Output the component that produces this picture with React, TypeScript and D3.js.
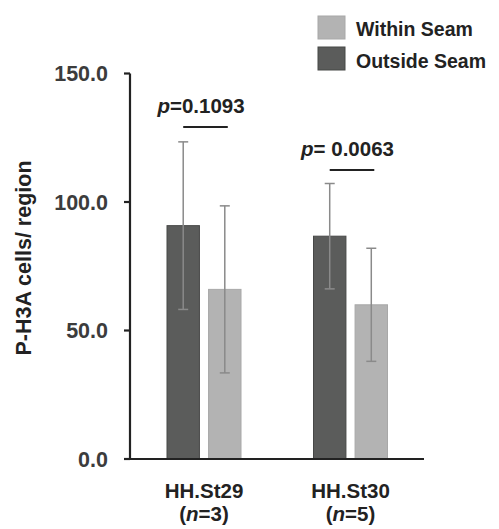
import React from 'react'
import { scaleBand, scaleLinear } from 'd3'

const categories = ['HH.St29', 'HH.St30']
const sampleSizes = ['3', '5']
const seriesNames = ['Outside Seam', 'Within Seam']
const outsideMeans = [90.8, 86.7]
const outsideErr = [32.6, 20.5]
const withinMeans = [66.0, 60.0]
const withinErr = [32.5, 22.0]
const pLabels = ['p=0.1093', 'p= 0.0063']
const pLineValues = [129.2, 112.5]
const yTicks = [0, 50, 100, 150]

const colors: Record<string, string> = {
  'Outside Seam': '#5b5c5b',
  'Within Seam': '#b3b3b3',
}
const strokes: Record<string, string> = {
  'Outside Seam': '#474847',
  'Within Seam': '#a8a8a8',
}

const font = 'Arial, "Liberation Sans", sans-serif'

const App = () => {
  const y = scaleLinear().domain([0, 150]).range([459, 73.5])
  const x = scaleBand().domain(categories).range([130.75, 423.75]).padding(0)
  const inner = scaleBand().domain(seriesNames).range([0, 74]).paddingInner(0.22).paddingOuter(0)

  const series = [
    { name: 'Outside Seam', means: outsideMeans, errs: outsideErr },
    { name: 'Within Seam', means: withinMeans, errs: withinErr },
  ]

  const groupLeft = (c: string) => (x(c) as number) + x.bandwidth() / 2 - 37

  return (
    <svg width={499} height={529} style={{ position: 'absolute', left: 0, top: 0 }}>
      <rect width={499} height={529} fill="#fff" />

      {/* bars */}
      {series.map(s =>
        categories.map((c, i) => {
          const bx = groupLeft(c) + (inner(s.name) as number)
          return (
            <rect
              key={s.name + c}
              x={bx}
              y={y(s.means[i])}
              width={inner.bandwidth()}
              height={y(0) - y(s.means[i])}
              fill={colors[s.name]}
              stroke={strokes[s.name]}
              strokeWidth={1}
            />
          )
        })
      )}

      {/* error bars */}
      {series.map(s =>
        categories.map((c, i) => {
          const cx = groupLeft(c) + (inner(s.name) as number) + inner.bandwidth() / 2
          const top = y(s.means[i] + s.errs[i])
          const bot = y(s.means[i] - s.errs[i])
          return (
            <g key={'e' + s.name + c} stroke="#8a8a8a" strokeWidth={1.5}>
              <line x1={cx} x2={cx} y1={top} y2={bot} />
              <line x1={cx - 5} x2={cx + 5} y1={top} y2={top} />
              <line x1={cx - 5} x2={cx + 5} y1={bot} y2={bot} />
            </g>
          )
        })
      )}

      {/* axes */}
      <g stroke="#222" strokeWidth={2.2}>
        <line x1={130} x2={130} y1={y(150)} y2={y(0)} />
        <line x1={124} x2={424} y1={y(0)} y2={y(0)} />
        {yTicks.map(t => (
          <line key={t} x1={124} x2={130} y1={y(t)} y2={y(t)} />
        ))}
      </g>
      {yTicks.map(t => (
        <text
          key={'l' + t}
          x={108}
          y={y(t)}
          dy="0.36em"
          textAnchor="end"
          fontFamily={font}
          fontWeight="bold"
          fontSize={21.5}
          fill="#3c3c3c"
        >
          {t.toFixed(1)}
        </text>
      ))}

      {/* y label */}
      <text
        transform="translate(31,258) rotate(-90)"
        textAnchor="middle"
        fontFamily={font}
        fontWeight="bold"
        fontSize={21.5}
        fill="#222"
      >
        P-H3A cells/ region
      </text>

      {/* x labels */}
      {categories.map((c, i) => {
        const cx = (x(c) as number) + x.bandwidth() / 2
        return (
          <g key={'x' + c} fontFamily={font} fontWeight="bold" fontSize={20.5} fill="#222" textAnchor="middle">
            <text x={cx} y={498}>{c}</text>
            <text x={cx} y={521}>
              (<tspan fontStyle="italic">n</tspan>={sampleSizes[i]})
            </text>
          </g>
        )
      })}

      {/* p values */}
      {categories.map((c, i) => {
        const gl = groupLeft(c)
        const x1 = gl + (inner('Outside Seam') as number) + inner.bandwidth() / 2
        const x2 = gl + (inner('Within Seam') as number) + inner.bandwidth() / 2
        const ly = y(pLineValues[i])
        const label = pLabels[i]
        return (
          <g key={'p' + c}>
            <line x1={x1} x2={x2 + 3} y1={ly} y2={ly} stroke="#222" strokeWidth={2} />
            <text
              x={(x1 + x2) / 2 - 3}
              y={ly - 14}
              textAnchor="middle"
              fontFamily={font}
              fontWeight="bold"
              fontSize={20.5}
              fill="#222"
            >
              <tspan fontStyle="italic">p</tspan>
              {label.slice(1)}
            </text>
          </g>
        )
      })}

      {/* legend */}
      {['Within Seam', 'Outside Seam'].map((n, i) => (
        <g key={'lg' + n}>
          <rect x={318} y={16 + i * 31} width={27} height={23} fill={colors[n]} stroke={strokes[n]} strokeWidth={1} />
          <text
            x={356}
            y={36 + i * 32}
            fontFamily={font}
            fontWeight="bold"
            fontSize={19.5}
            fill="#222"
          >
            {n}
          </text>
        </g>
      ))}
    </svg>
  )
}

export default App
